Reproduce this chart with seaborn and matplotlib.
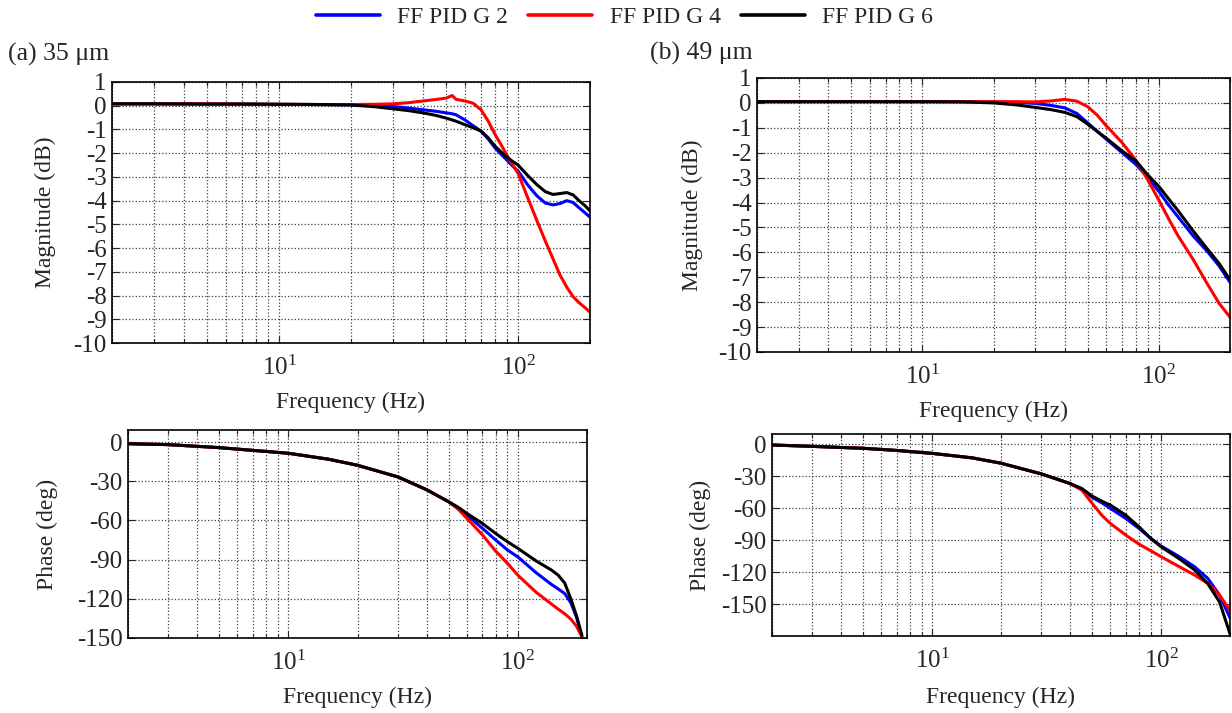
import numpy as np
import pandas as pd
import matplotlib
matplotlib.use("Agg")
import matplotlib.pyplot as plt
from matplotlib.lines import Line2D
from matplotlib.ticker import NullFormatter
import seaborn as sns

# ---------------- data ----------------
SERIES = ['FF PID G 2', 'FF PID G 4', 'FF PID G 6']
COLORS = ['#0000ff', '#ff0000', '#000000']

# (a) 35 um - magnitude
freq_mag_a = [2, 3, 5, 7, 10, 15, 20, 25, 30, 35, 40, 45, 50, 53, 55, 60, 65, 70, 75, 80,
              85, 90, 95, 100, 110, 120, 130, 140, 150, 160, 170, 180, 190, 200]
mag_a_g2 = [0.08, 0.08, 0.07, 0.07, 0.06, 0.05, 0.04, 0.01, -0.03, -0.1, -0.17, -0.23, -0.3, -0.34,
            -0.38, -0.6, -0.85, -1.07, -1.4, -1.77, -2.05, -2.3, -2.55, -2.75, -3.35, -3.8, -4.1,
            -4.18, -4.12, -4.0, -4.08, -4.3, -4.5, -4.7]
mag_a_g4 = [0.08, 0.08, 0.08, 0.07, 0.06, 0.05, 0.05, 0.06, 0.08, 0.13, 0.2, 0.26, 0.32, 0.43,
            0.27, 0.2, 0.1, -0.17, -0.65, -1.2, -1.65, -2.1, -2.5, -2.85, -3.9, -4.85, -5.7, -6.45,
            -7.15, -7.65, -8.05, -8.3, -8.5, -8.7]
mag_a_g6 = [0.08, 0.08, 0.07, 0.07, 0.06, 0.05, 0.03, -0.04, -0.13, -0.21, -0.3, -0.4, -0.52, -0.6,
            -0.65, -0.8, -0.93, -1.07, -1.35, -1.7, -1.95, -2.17, -2.35, -2.5, -2.95, -3.33, -3.62,
            -3.74, -3.7, -3.66, -3.76, -4.0, -4.2, -4.43]

# (a) 35 um - phase
freq_ph_a = [2, 3, 5, 7, 10, 15, 20, 30, 40, 50, 55, 60, 70, 80, 90, 100, 120, 140, 150, 160, 170, 180, 190]
ph_a_g2 = [-1.3, -2, -4.3, -6.4, -8.6, -13.2, -17.8, -26.7, -36.5, -45.8, -51, -56, -66, -75,
           -82.6, -88, -100, -109, -112.5, -116, -123, -134, -149]
ph_a_g4 = [-1.3, -2, -4.3, -6.4, -8.6, -13.2, -17.8, -26.7, -36.5, -45.8, -51.5, -58.5, -71,
           -83.5, -92.8, -102, -115, -124, -128, -131.5, -135.5, -141, -149]
ph_a_g6 = [-1.3, -2, -4.3, -6.4, -8.6, -13.2, -17.8, -26.7, -36.5, -45.8, -50, -54.7, -62.3,
           -70, -76.3, -81.4, -91, -98, -102, -108, -120, -133, -148]

# (b) 49 um - magnitude
freq_mag_b = [2, 3, 5, 7, 10, 15, 20, 25, 30, 35, 40, 45, 50, 55, 60, 70, 80, 90, 100,
              110, 120, 140, 160, 180, 200]
mag_b_g2 = [0.05, 0.05, 0.05, 0.05, 0.05, 0.05, 0.04, 0.02, -0.02, -0.1, -0.2, -0.42, -0.8, -1.15,
            -1.46, -2.0, -2.47, -3.0, -3.55, -4.1, -4.55, -5.35, -5.95, -6.55, -7.2]
mag_b_g4 = [0.05, 0.05, 0.05, 0.05, 0.05, 0.05, 0.05, 0.05, 0.04, 0.08, 0.14, 0.07, -0.15, -0.5,
            -0.92, -1.6, -2.3, -3.1, -3.9, -4.65, -5.3, -6.3, -7.25, -8.05, -8.6]
mag_b_g6 = [0.05, 0.05, 0.05, 0.05, 0.05, 0.04, 0.0, -0.08, -0.18, -0.27, -0.38, -0.55, -0.85,
            -1.15, -1.42, -1.93, -2.33, -2.9, -3.35, -3.85, -4.3, -5.15, -5.85, -6.45, -7.1]

# (b) 49 um - phase
freq_ph_b = [2, 3, 5, 7, 10, 15, 20, 30, 40, 45, 50, 55, 60, 70, 80, 90, 100, 120, 140, 160, 180, 200]
ph_b_g2 = [-0.9, -2.2, -4, -6, -8.75, -13, -18, -28, -37, -42.5, -50, -55, -60.3, -69.7, -79,
           -88.4, -95.6, -105.6, -115, -126, -141.6, -163]
ph_b_g4 = [-0.9, -2.2, -4, -6, -8.75, -13, -18, -28, -37, -43, -55.6, -66.6, -74.4, -85.3,
           -93.8, -100, -105.6, -115, -122.8, -130.6, -141.6, -156]
ph_b_g6 = [-0.9, -2.2, -4, -6, -8.75, -13, -18, -28, -37, -41.6, -48.8, -53.5, -57.2, -66.6,
           -77.5, -88.4, -96.3, -107.5, -118, -131, -148, -178]

mag_ticks = list(range(-10, 2))
ph_ticks_a = [0, -30, -60, -90, -120, -150]
ph_ticks_b = [0, -30, -60, -90, -120, -150]

# ---------------- style ----------------
sns.set_style("ticks")
plt.rcParams['font.family'] = ['Liberation Serif', 'DejaVu Serif']
plt.rcParams['mathtext.fontset'] = 'stix'
plt.rcParams['axes.unicode_minus'] = False
FS = 17
TFS = 18

W, H = 1232, 713
fig = plt.figure(figsize=(W / 100, H / 100), dpi=100)


def box(l, r, t, b):
    return [l / W, 1 - b / H, (r - l) / W, (b - t) / H]


ax_ma = fig.add_axes(box(112, 590, 82, 343))
ax_pa = fig.add_axes(box(128, 587, 430, 638))
ax_mb = fig.add_axes(box(757, 1230, 78, 352))
ax_pb = fig.add_axes(box(772, 1230, 434, 636))


def draw(ax, freq, curves):
    df = pd.DataFrame({'f': freq})
    for name, vals in zip(SERIES, curves):
        df[name] = vals
    long = df.melt(id_vars='f', var_name='series', value_name='v')
    sns.lineplot(data=long, x='f', y='v', hue='series', palette=dict(zip(SERIES, COLORS)),
                 estimator=None, sort=False, lw=2.2, legend=False, ax=ax)


draw(ax_ma, freq_mag_a, [mag_a_g2, mag_a_g4, mag_a_g6])
draw(ax_pa, freq_ph_a, [ph_a_g2, ph_a_g4, ph_a_g6])
draw(ax_mb, freq_mag_b, [mag_b_g2, mag_b_g4, mag_b_g6])
draw(ax_pb, freq_ph_b, [ph_b_g2, ph_b_g4, ph_b_g6])


def style(ax, ylim, yticks, ylabel, ylab_x, xlab_y):
    ax.set_xscale('log')
    ax.set_xlim(2, 200)
    ax.set_ylim(*ylim)
    ax.set_yticks(yticks)
    ax.set_yticklabels([str(t) for t in yticks])
    ax.xaxis.set_minor_formatter(NullFormatter())
    ax.grid(True, which='both', axis='x', ls=':', color='0.25', lw=0.9)
    ax.grid(True, which='major', axis='y', ls=':', color='0.25', lw=0.9)
    ax.tick_params(which='both', direction='in', top=True, right=True, labelsize=TFS, width=0.8)
    ax.tick_params(which='major', length=5)
    ax.tick_params(which='minor', length=3)
    ax.tick_params(axis='x', which='major', pad=9)
    ax.tick_params(axis='y', which='major', pad=4)
    for s in ax.spines.values():
        s.set_linewidth(1.2)
        s.set_color('black')
    ax.set_xlabel('Frequency (Hz)', fontsize=FS)
    ax.set_ylabel(ylabel, fontsize=FS)
    ax.yaxis.set_label_coords(ylab_x, 0.5)
    ax.xaxis.set_label_coords(0.5, xlab_y)
    ax.xaxis.label.set_va('center')
    ax.yaxis.label.set_va('center')


style(ax_ma, (-10, 1), mag_ticks, 'Magnitude (dB)', -0.140, -0.226)
style(ax_pa, (-150, 9.2), ph_ticks_a, 'Phase (deg)', -0.176, -0.284)
style(ax_mb, (-10, 1), mag_ticks, 'Magnitude (dB)', -0.137, -0.215)
style(ax_pb, (-180, 9.4), ph_ticks_b, 'Phase (deg)', -0.157, -0.302)

fig.text(8 / W, 1 - 54 / H, '(a) 35 μm', fontsize=18.5, va='center', ha='left')
fig.text(650 / W, 1 - 53 / H, '(b) 49 μm', fontsize=18.5, va='center', ha='left')

handles = [Line2D([], [], color=c, lw=2.6) for c in COLORS]
fig.legend(handles, SERIES, loc='center', bbox_to_anchor=(0.507, 1 - 17 / H), ncol=3,
           frameon=False, fontsize=FS, handlelength=2.7, handletextpad=0.75, columnspacing=0.85)

fig.savefig('out.png', dpi=100)
